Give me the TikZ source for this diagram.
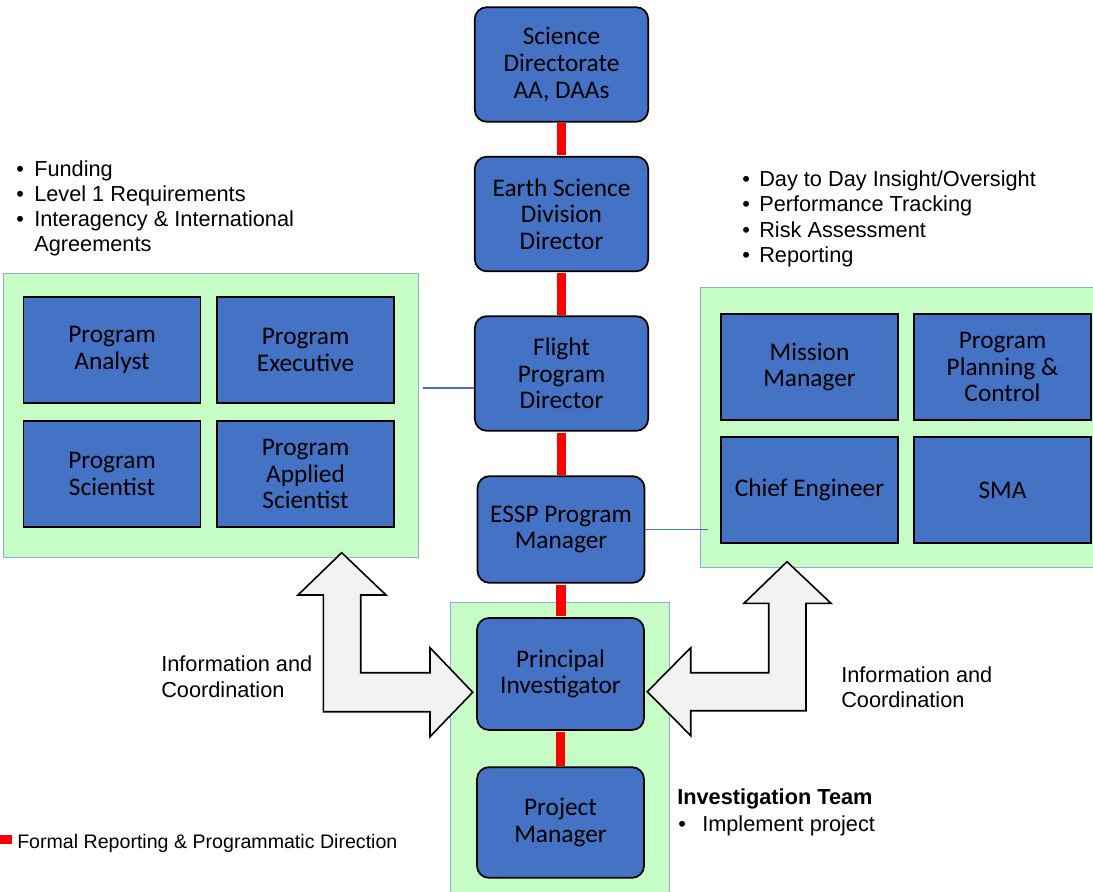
\documentclass[tikz,border=0pt]{standalone}
\usepackage{fontspec}
\setmainfont{Liberation Sans}
\newfontfamily\boxfont{Carlito}
\definecolor{boxblue}{HTML}{4472C4}
\definecolor{grpgreen}{HTML}{C6FCC6}
\definecolor{grpedge}{HTML}{8FAADC}
\definecolor{arrowgray}{HTML}{F2F2F2}
\newcommand{\itm}[2][13.5pt]{\makebox[#1][l]{\textbullet}#2}

\tikzset{
  orgbox/.style={draw=black, line width=1.3pt, fill=boxblue, rounded corners=9pt,
    minimum width=130pt, minimum height=86pt, align=center, inner sep=2pt,
    font=\boxfont\fontsize{19}{20}\selectfont},
  teambox/.style={orgbox, minimum width=125.25pt, minimum height=83pt},
  staffbox/.style={orgbox, sharp corners, minimum width=132.75pt, minimum height=79.5pt},
  groupbox/.style={draw=grpedge, fill=grpgreen, line width=0.75pt},
  formal/.style={draw=red, line width=7pt, shorten <=0.6pt, shorten >=0.6pt},
  link/.style={draw=boxblue, line width=0.8pt},
  bigarrow/.style={draw=black, fill=arrowgray, line width=1.2pt, line join=miter},
  note/.style={anchor=base west, inner sep=0pt, font=\fontsize{16.3}{19}\selectfont},
}

\begin{document}
\begin{tikzpicture}[x=0.75pt, y=-0.75pt]
\useasboundingbox (0,0) rectangle (1093,892);

% groups
\draw[groupbox] (3,273) rectangle (418,557);
\draw[groupbox] (700,287) rectangle (1100,567);
\draw[groupbox] (450,602) rectangle (669,900);

% information arrows
\draw[bigarrow] (341.7,552.7) -- (386,595) -- (360.7,595) -- (360.7,672.7)
  -- (430,672.7) -- (430,647.7) -- (472.7,692.3) -- (430,736.7) -- (430,711.7)
  -- (323.3,711.7) -- (323.3,595) -- (298,595) -- cycle;
\draw[bigarrow] (787,561.7) -- (831,603.3) -- (806,603.3) -- (806,710.7)
  -- (690.7,710.7) -- (690.7,735.7) -- (647.3,691.7) -- (690.7,647.7) -- (690.7,672.7)
  -- (768.7,672.7) -- (768.7,603.3) -- (744,603.3) -- cycle;

% reporting chain
\node[orgbox] (sd) at (561.5,64.5) {Science\\Directorate\\AA, DAAs};
\node[orgbox] (esd) at (561.5,214) {Earth Science\\Division\\Director};
\node[orgbox] (fpd) at (561.5,373.5) {Flight\\Program\\Director};
\node[teambox, minimum height=80pt] (essp) at (561,529.5) {ESSP Program\\Manager};
\node[teambox, minimum height=84pt] (pi) at (560.5,674) {Principal\\Investigator};
\node[teambox] (pm) at (560.5,822.5) {Project\\Manager};

\foreach \a/\b in {sd/esd, esd/fpd, fpd/essp, essp/pi, pi/pm}
  \draw[formal] (\a.south) -- (\a.south |- \b.north);

% program office
\node[staffbox] (pa) at (112,350) {Program\\Analyst};
\node[staffbox] (pe) at (305.5,350) {Program\\Executive};
\node[staffbox] (ps) at (112,474) {Program\\Scientist};
\node[staffbox] (pas) at (305.5,474) {Program\\Applied\\Scientist};

% program management
\node[staffbox] (mm) at (809.5,367) {Mission\\Manager};
\node[staffbox] (ppc) at (1002.5,367) {Program\\Planning \&\\Control};
\node[staffbox] (ce) at (809.5,490) {Chief Engineer};
\node[staffbox] (sma) at (1002.5,490) {SMA};

\coordinate (lgrp) at (423,388);
\coordinate (rgrp) at (708,530);
\draw[link] (fpd.west |- lgrp) -- (lgrp);
\draw[link] (essp.east) -- (essp.east -| rgrp);

% texts
\foreach \txt [count=\i] in {Funding, Level 1 Requirements, Interagency \& International}
  \node[note] (ltxt\i) at (16,{176+25*(\i-1)}) {\itm{\txt}};
\node[note] (ltxt4) at (16,251) {\hspace*{13.5pt}Agreements};

\foreach \txt [count=\i] in {Day to Day Insight/Oversight, Performance Tracking, Risk Assessment, Reporting}
  \node[note] (rtxt\i) at (742,{186+25.5*(\i-1)}) {\itm[12.75pt]{\txt}};

\node[note] (linfo1) at (161,671) {Information and};
\node[note] (linfo2) at (161,697) {Coordination};
\node[note] (rinfo1) at (841,682) {Information and};
\node[note] (rinfo2) at (841,707) {Coordination};

\node[note, font=\bfseries\fontsize{16.3}{19}\selectfont] (team) at (677,804) {Investigation Team};
\node[note] (task) at (678,831) {\itm[18pt]{Implement project}};

% legend
\fill[red] (0,835) rectangle (12,844);
\node[note, font=\fontsize{14.7}{17}\selectfont] (legend) at (17,848) {Formal Reporting \& Programmatic Direction};

\end{tikzpicture}
\end{document}
